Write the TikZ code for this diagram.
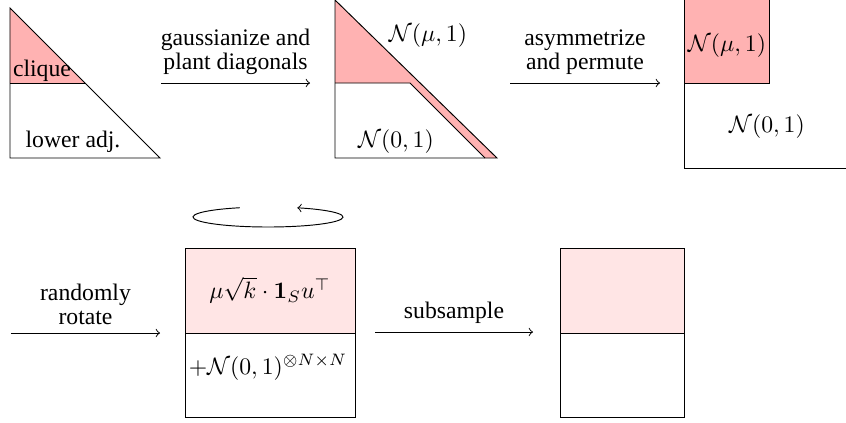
\documentclass[tikz,border=0pt]{standalone}
\usepackage[no-math]{fontspec}
\setmainfont{LiberationSerif}[Extension=.ttf,UprightFont=*-Regular,BoldFont=*-Bold,ItalicFont=*-Italic,BoldItalicFont=*-BoldItalic]
\usepackage{amsmath}
\definecolor{cliquepink}{RGB}{255,178,178}
\definecolor{softpink}{RGB}{255,229,229}
\tikzset{steplabel/.style={above,align=center}}
\begin{document}
\begin{tikzpicture}[x=0.422pt,y=-0.422pt,line join=miter]
\useasboundingbox (0,0) rectangle (846,423);
% row 1: lower adjacency triangle
\fill[cliquepink] (10,8) -- (10,83) -- (85,83) -- cycle;
\draw (10,8) -- (10,158) -- (160,158) -- cycle;
\draw (10,83) -- (85,83);
\node[anchor=base] (clique) at (42,76) {clique};
\node[anchor=base] (loweradj) at (73,147) {lower adj.};
\coordinate (gauss-a) at (161,83);
\coordinate (gauss-b) at (310,83);
\draw[->] (gauss-a) -- node[steplabel] (gauss) {gaussianize and\\[-2pt] plant diagonals} (gauss-b);
% gaussianized triangle with planted diagonal
\fill[cliquepink] (335,0) -- (497,158) -- (485,158) -- (410,83) -- (335,83) -- cycle;
\draw (335,0) -- (335,158) -- (497,158) -- cycle;
\draw (335,83) -- (410,83) -- (485,158);
\node[anchor=base] (planted) at (428,41) {$\mathcal{N}(\mu,1)$};
\node[anchor=base] (noise) at (396,147) {$\mathcal{N}(0,1)$};
\coordinate (asym-a) at (510,83);
\coordinate (asym-b) at (660,83);
\draw[->] (asym-a) -- node[steplabel] (asym) {asymmetrize\\[-2pt] and permute} (asym-b);
% permuted square matrix
\fill[cliquepink] (684,-1) rectangle (769,83);
\draw (684,-1) rectangle (769,83);
\draw (684,-1) -- (684,168) -- (846,168);
\node[anchor=base] (block) at (727,51) {$\mathcal{N}(\mu,1)$};
\node[anchor=base] (rest) at (767,132) {$\mathcal{N}(0,1)$};
% row 2: rotation
\coordinate (rot-a) at (11,333);
\coordinate (rot-b) at (160,333);
\draw[->] (rot-a) -- node[steplabel] (rot) {randomly\\[-2pt] rotate} (rot-b);
\draw[->] (268,217) ++(248:75 and 10) arc[start angle=248,end angle=-67,x radius=75,y radius=10];
\fill[softpink] (185,248) rectangle (355,333);
\draw (185,248) rectangle (355,417);
\draw (185,333) -- (355,333);
\node (signal) at (270,290) {$\mu\sqrt{k}\cdot\mathbf{1}_S u^\top$};
\node (gauss-noise) at (268,367) {$+\mathcal{N}(0,1)^{\otimes N\times N}$};
\coordinate (sub-a) at (375,332);
\coordinate (sub-b) at (533,332);
\draw[->] (sub-a) -- node[steplabel] (sub) {subsample} (sub-b);
\fill[softpink] (560,248) rectangle (684,333);
\draw (560,248) rectangle (684,417);
\draw (560,333) -- (684,333);
\end{tikzpicture}
\end{document}
